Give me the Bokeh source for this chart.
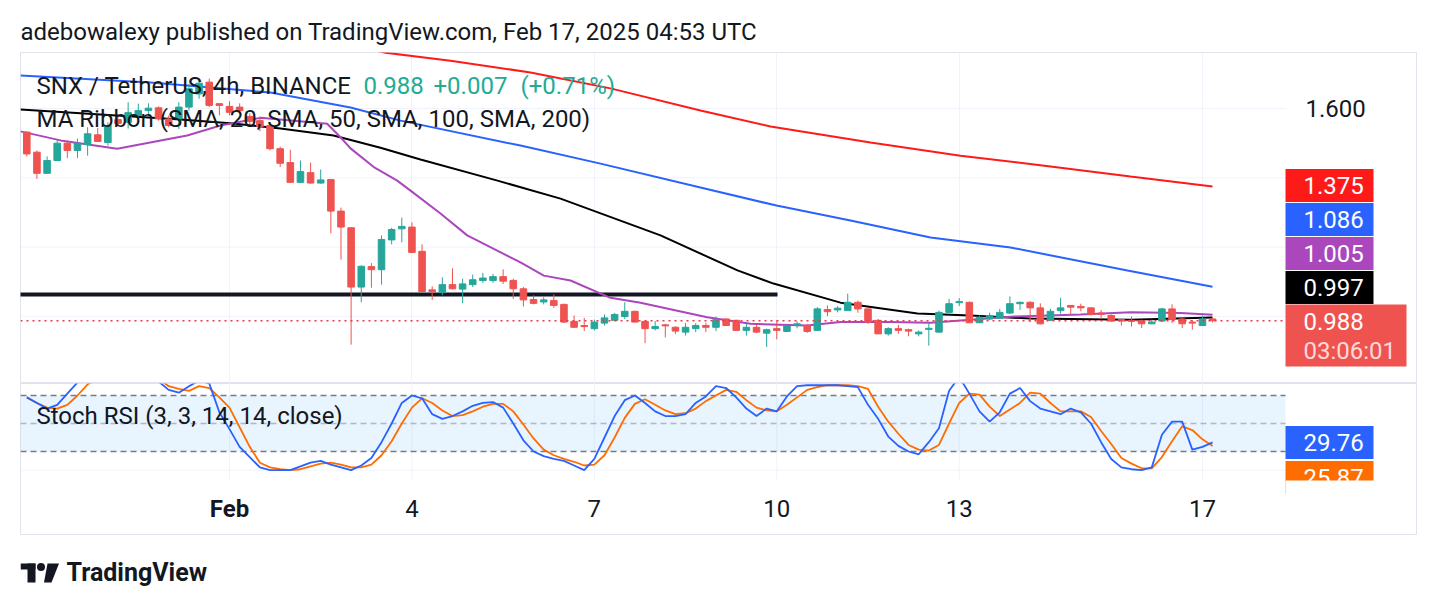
import pandas as pd
from bokeh.plotting import figure
from bokeh.models import Range1d, Label, ColumnDataSource, Grid, FixedTicker
from bokeh.layouts import column
from bokeh.embed import file_html
from bokeh.resources import INLINE
from bokeh.core.properties import value

# ---------------- data ----------------
candle_start = "2025-01-28 16:00"   # 4h candles
candle_open = [1.532, 1.474, 1.413, 1.450, 1.500, 1.479, 1.496, 1.524, 1.502, 1.568,
               1.560, 1.580, 1.594, 1.602, 1.570, 1.570, 1.604, 1.642, 1.676, 1.614,
               1.606, 1.604, 1.577, 1.565, 1.551, 1.484, 1.444, 1.387, 1.415, 1.385,
               1.395, 1.304, 1.256, 1.085, 1.144, 1.135, 1.221, 1.253, 1.258, 1.188,
               1.077, 1.069, 1.092, 1.079, 1.092, 1.104, 1.104, 1.115, 1.104, 1.080,
               1.049, 1.042, 1.046, 1.035, 0.986, 0.974, 0.965, 0.981, 0.989, 1.000,
               1.015, 0.986, 0.965, 0.976, 0.969, 0.955, 0.965, 0.974, 0.969, 0.993,
               0.989, 0.960, 0.969, 0.952, 0.965, 0.957, 0.974, 0.974, 0.960, 1.020,
               1.019, 1.017, 1.041, 1.022, 0.989, 0.950, 0.965, 0.962, 0.950, 0.963,
               0.955, 1.012, 1.040, 1.041, 0.982, 0.993, 0.995, 1.010, 1.037, 1.041,
               1.025, 0.989, 1.017, 1.032, 1.029, 1.025, 1.010, 1.003, 0.991, 0.989,
               0.987, 0.979, 0.987, 1.022, 0.993, 0.984, 0.974, 0.993]
candle_high = [1.534, 1.479, 1.462, 1.510, 1.508, 1.513, 1.546, 1.544, 1.560, 1.574,
               1.618, 1.614, 1.615, 1.606, 1.580, 1.618, 1.671, 1.686, 1.686, 1.614,
               1.621, 1.615, 1.586, 1.577, 1.557, 1.490, 1.481, 1.450, 1.444, 1.424,
               1.397, 1.314, 1.257, 1.147, 1.154, 1.234, 1.256, 1.285, 1.272, 1.208,
               1.087, 1.113, 1.139, 1.109, 1.121, 1.126, 1.123, 1.136, 1.109, 1.085,
               1.061, 1.056, 1.064, 1.037, 1.003, 0.996, 0.991, 1.006, 1.010, 1.041,
               1.017, 0.986, 0.987, 0.979, 0.972, 0.981, 0.981, 0.982, 1.000, 0.994,
               0.991, 0.979, 0.977, 0.965, 0.989, 0.976, 0.986, 0.979, 1.027, 1.032,
               1.030, 1.066, 1.046, 1.023, 0.993, 0.969, 0.976, 0.965, 0.960, 0.982,
               1.017, 1.051, 1.053, 1.043, 1.003, 1.011, 1.022, 1.058, 1.043, 1.044,
               1.038, 1.022, 1.054, 1.032, 1.037, 1.027, 1.019, 1.006, 0.993, 1.000,
               0.991, 0.991, 1.025, 1.035, 0.998, 0.989, 1.003, 0.995]
candle_low = [1.462, 1.397, 1.412, 1.448, 1.457, 1.457, 1.464, 1.503, 1.493, 1.551,
              1.542, 1.575, 1.580, 1.565, 1.546, 1.541, 1.594, 1.628, 1.604, 1.580,
              1.580, 1.585, 1.554, 1.534, 1.479, 1.431, 1.386, 1.386, 1.383, 1.383,
              1.240, 1.164, 0.919, 1.041, 1.083, 1.092, 1.208, 1.214, 1.183, 1.070,
              1.048, 1.061, 1.078, 1.038, 1.085, 1.097, 1.097, 1.094, 1.051, 1.029,
              1.035, 1.035, 1.025, 0.981, 0.968, 0.958, 0.960, 0.974, 0.987, 0.993,
              0.983, 0.923, 0.960, 0.940, 0.950, 0.945, 0.955, 0.955, 0.958, 0.973,
              0.958, 0.945, 0.952, 0.912, 0.934, 0.955, 0.966, 0.953, 0.959, 1.001,
              1.012, 1.016, 1.011, 0.979, 0.950, 0.945, 0.950, 0.943, 0.943, 0.916,
              0.953, 1.011, 1.030, 0.981, 0.981, 0.989, 0.993, 1.007, 1.019, 0.984,
              0.977, 0.987, 1.008, 1.006, 1.015, 1.003, 0.993, 0.984, 0.974, 0.971,
              0.967, 0.978, 0.984, 0.981, 0.967, 0.962, 0.973, 0.983]
candle_close = [1.469, 1.413, 1.450, 1.500, 1.479, 1.500, 1.527, 1.505, 1.551, 1.557,
                1.588, 1.594, 1.601, 1.570, 1.551, 1.604, 1.657, 1.673, 1.609, 1.609,
                1.589, 1.594, 1.563, 1.548, 1.484, 1.442, 1.387, 1.418, 1.385, 1.394,
                1.304, 1.258, 1.085, 1.145, 1.135, 1.222, 1.251, 1.260, 1.185, 1.072,
                1.072, 1.092, 1.080, 1.094, 1.106, 1.111, 1.115, 1.102, 1.080, 1.048,
                1.038, 1.048, 1.032, 0.984, 0.969, 0.971, 0.984, 0.996, 1.006, 1.015,
                0.984, 0.965, 0.971, 0.973, 0.958, 0.969, 0.974, 0.969, 0.991, 0.974,
                0.960, 0.969, 0.955, 0.962, 0.960, 0.974, 0.979, 0.957, 1.022, 1.014,
                1.024, 1.041, 1.022, 0.984, 0.950, 0.965, 0.960, 0.958, 0.955, 0.966,
                1.012, 1.037, 1.043, 0.982, 0.998, 1.003, 1.012, 1.037, 1.041, 1.025,
                0.979, 1.015, 1.025, 1.027, 1.025, 1.006, 1.006, 0.987, 0.987, 0.986,
                0.979, 0.984, 1.022, 0.991, 0.979, 0.981, 0.993, 0.988]

price_change = "+0.007"
price_change_pct = "(+0.71%)"
countdown = "03:06:01"

# moving averages, read at points along each line (x = days after Feb 1, 00:00)
sma20_day = [-3.437, -2.779, -1.847, -0.696, -0.148, 0.510, 1.332, 1.607, 1.825, 1.990,
             2.373, 2.758, 2.977, 3.470, 3.909, 4.346, 4.785, 5.169, 5.608, 6.265,
             6.759, 7.856, 8.568, 9.500, 10.048, 10.870, 11.528, 12.186, 12.898, 13.995,
             14.817, 15.639, 16.165]
sma20_val = [1.534, 1.508, 1.484, 1.522, 1.551, 1.573, 1.560, 1.556, 1.517, 1.485,
             1.431, 1.392, 1.363, 1.297, 1.234, 1.195, 1.156, 1.118, 1.104, 1.054,
             1.040, 0.998, 0.979, 0.974, 0.984, 0.984, 0.982, 0.991, 1.000, 1.006,
             1.012, 1.010, 1.005]
sma50_day = [-3.437, -2.121, -0.806, 0.066, 0.839, 1.710, 2.483, 3.141, 4.407, 5.443,
             7.088, 8.354, 8.946, 10.048, 11.314, 12.186, 13.172, 14.817, 16.165]
sma50_val = [1.597, 1.583, 1.568, 1.557, 1.542, 1.522, 1.487, 1.453, 1.392, 1.340,
             1.234, 1.133, 1.095, 1.040, 1.009, 1.003, 0.994, 0.991, 0.997]
sma100_day = [-3.437, -1.299, 0.674, 1.990, 2.812, 4.785, 6.101, 7.745, 8.995, 10.212,
              11.528, 12.843, 14.767, 16.165]
sma100_val = [1.695, 1.675, 1.646, 1.603, 1.565, 1.493, 1.441, 1.372, 1.320, 1.277,
              1.228, 1.199, 1.133, 1.086]
sma200_day = [1.661, 2.565, 3.634, 4.950, 6.265, 7.745, 8.897, 10.541, 12.021, 13.501,
              14.817, 16.165]
sma200_val = [1.796, 1.761, 1.738, 1.704, 1.658, 1.594, 1.548, 1.502, 1.464, 1.433,
              1.404, 1.375]

hline_level = 1.0635      # drawn horizontal line
hline_end_day = 9.012

stoch_k = [78, 72, 66, 70, 82, 94, 100, 100, 100, 100, 100, 100, 100, 95, 86, 83, 90, 96, 93, 62,
           44, 25, 14, 3, 0, 0, 0, 4, 8, 10, 6, 3, 0, 5, 13, 30, 50, 72, 80, 77,
           60, 55, 58, 63, 69, 72, 73, 67, 50, 32, 20, 15, 12, 10, 5, 0, 12, 35, 58, 75,
           80, 72, 63, 58, 58, 60, 72, 79, 90, 88, 78, 66, 58, 66, 63, 79, 90, 91, 91, 91,
           91, 90, 89, 70, 55, 36, 26, 20, 17, 30, 45, 85, 100, 82, 63, 52, 62, 82, 88, 74,
           66, 63, 60, 66, 62, 50, 30, 12, 3, 1, 0, 3, 38, 52, 52, 22, 25, 29.76]
stoch_d = [78, 72, 67, 66, 70, 80, 92, 98, 100, 100, 100, 100, 100, 98, 90, 87, 85, 90, 88, 78,
           67, 46, 25, 8, 3, 1, 0, 1, 4, 7, 8, 6, 3, 3, 6, 16, 31, 50, 67, 77,
           72, 64, 58, 59, 63, 68, 71, 71, 63, 49, 34, 22, 16, 12, 9, 5, 6, 16, 35, 56,
           71, 76, 70, 64, 60, 61, 66, 74, 80, 86, 84, 75, 67, 64, 63, 70, 78, 86, 89, 91,
           91, 91, 90, 87, 68, 52, 39, 27, 22, 21, 27, 50, 72, 82, 81, 68, 58, 65, 72, 83,
           82, 72, 63, 63, 63, 57, 42, 28, 13, 7, 2, 2, 14, 31, 47, 43, 33, 25.87]
stoch_levels = [80, 50, 20]

time_ticks = [0, 3, 6, 9, 12, 16]
time_labels = ["Feb", "4", "7", "10", "13", "17"]
time_styles = ["bold", "normal", "normal", "normal", "normal", "normal"]
price_ticks = [1.0, 1.2, 1.4, 1.6]

# ---------------- picture calibration (page pixels) ----------------
W = 1428
BOX_L, BOX_R, SCALE_L = 20, 1416, 1285
MAIN_T, MAIN_B, PANE_B, BOX_B, PAGE_B = 52, 383, 480, 535, 598
DAY0_PX, PX_DAY = 229.0, 60.81
PRICE_REF, PRICE_REF_PX, PX_PRICE = 1.6, 108.0, 346.7
ST_REF, ST_REF_PX, PX_ST = 80.0, 395.0, 0.9333


def dx(px):
    return (px - DAY0_PX) / PX_DAY


def py(px):
    return PRICE_REF - (px - PRICE_REF_PX) / PX_PRICE


def sy(px):
    return ST_REF - (px - ST_REF_PX) / PX_ST


FONT = "Roboto"
FS = "24px"
TXT = "#131722"
UP, DN = "#26a69a", "#ef5350"
GRID = "#f0f3fa"
BORDER = "#e0e3eb"
C20, C50, C100, C200 = "#ab47bc", "#000000", "#2962ff", "#ff1a1a"
K_COL, D_COL = "#2962ff", "#ff6d00"

XL, XR, XS = dx(BOX_L), dx(BOX_R), dx(SCALE_L)

t = pd.date_range(candle_start, periods=len(candle_open), freq="4h")
days = list((t - pd.Timestamp("2025-02-01")) / pd.Timedelta(days=1))


def base(h, xr, yr, outline):
    f = figure(width=W, height=h, x_range=xr, y_range=yr,
               output_backend="svg", toolbar_location=None,
               x_axis_location=None, y_axis_location=None,
               min_border_left=BOX_L, min_border_right=W - BOX_R,
               min_border_top=0, min_border_bottom=0,
               outline_line_color=outline, background_fill_color="white",
               border_fill_color="white")
    f.center = [r for r in f.center if not isinstance(r, Grid)]
    return f


# ---------------- header ----------------
head = base(MAIN_T, Range1d(BOX_L, BOX_R), Range1d(MAIN_T, 0), None)
head.text(x=[20], y=[31], text=["adebowalexy published on TradingView.com, Feb 17, 2025 04:53 UTC"],
          text_font=value(FONT), text_font_size=FS, text_color=TXT,
          text_baseline="middle", text_align="left")

# ---------------- main pane ----------------
main = base(MAIN_B - MAIN_T, Range1d(XL, XR), Range1d(py(MAIN_B), py(MAIN_T)), BORDER)
main.add_layout(Grid(dimension=0, ticker=FixedTicker(ticks=time_ticks),
                     grid_line_color=GRID, grid_line_width=1))
main.segment(x0=[XL] * len(price_ticks), y0=price_ticks, x1=[XS] * len(price_ticks),
             y1=price_ticks, line_color=GRID, line_width=1)

colors = [UP if c >= o else DN for o, c in zip(candle_open, candle_close)]
src = ColumnDataSource(dict(
    x=days, o=candle_open, h=candle_high, l=candle_low, c=candle_close,
    top=[max(o, c) for o, c in zip(candle_open, candle_close)],
    bot=[min(o, c) for o, c in zip(candle_open, candle_close)],
    col=colors))

main.segment(x0=XL - 1, y0=hline_level, x1=hline_end_day, y1=hline_level,
             line_color="#131722", line_width=4)
main.line(sma200_day, sma200_val, line_color=C200, line_width=2)
main.line(sma100_day, sma100_val, line_color=C100, line_width=2)
main.line(sma50_day, sma50_val, line_color=C50, line_width=2)
main.line(sma20_day, sma20_val, line_color=C20, line_width=2)
main.segment(x0="x", y0="l", x1="x", y1="h", line_color="col", line_width=1, source=src)
main.vbar(x="x", width=0.108, top="top", bottom="bot", fill_color="col",
          line_color="col", line_width=1, source=src)

last = candle_close[-1]
main.segment(x0=XL, y0=last, x1=XS, y1=last, line_color="#f23645",
             line_width=1.5, line_dash="2 4")

# price scale label / badges
main.text(x=[dx(1305)], y=[price_ticks[-1]], text=[f"{price_ticks[-1]:.3f}"],
          text_font=value(FONT), text_font_size=FS, text_color=TXT,
          text_baseline="middle", text_align="left")

ma_last = [sma200_val[-1], sma100_val[-1], sma20_val[-1], sma50_val[-1]]
ma_cols = [C200, C100, C20, C50]
badge_c = [185, 219, 253, 287]
main.quad(left=XS, right=dx(1373), top=[py(c - 16.5) for c in badge_c],
          bottom=[py(c + 16.5) for c in badge_c], fill_color=ma_cols, line_color=None)
main.text(x=[dx(1303)] * 4, y=[py(c) for c in badge_c], text=[f"{v:.3f}" for v in ma_last],
          text_font=value(FONT), text_font_size=FS, text_color="white",
          text_baseline="middle", text_align="left")
main.quad(left=XS, right=dx(1406), top=py(304), bottom=py(366), fill_color=DN, line_color=None)
main.text(x=[dx(1303)], y=[py(321)], text=[f"{last:.3f}"], text_font=value(FONT),
          text_font_size=FS, text_color="white", text_baseline="middle", text_align="left")
main.text(x=[dx(1303)], y=[py(350)], text=[countdown], text_font=value(FONT),
          text_font_size=FS, text_color="white", text_alpha=0.8,
          text_baseline="middle", text_align="left")

# legend texts
main.add_layout(Label(x=dx(36), y=py(85), text="SNX / TetherUS, 4h, BINANCE",
                      text_font=FONT, text_font_size=FS, text_color=TXT,
                      text_baseline="middle", text_align="left"))
main.add_layout(Label(x=dx(363), y=py(85), text=f"{last:.3f}",
                      text_font=FONT, text_font_size=FS, text_color="#22ab94",
                      text_baseline="middle", text_align="left"))
main.add_layout(Label(x=dx(433), y=py(85), text=price_change,
                      text_font=FONT, text_font_size=FS, text_color="#22ab94",
                      text_baseline="middle", text_align="left"))
main.add_layout(Label(x=dx(520), y=py(85), text=price_change_pct,
                      text_font=FONT, text_font_size=FS, text_color="#22ab94",
                      text_baseline="middle", text_align="left"))
main.add_layout(Label(x=dx(36), y=py(118), text="MA Ribbon (SMA, 20, SMA, 50, SMA, 100, SMA, 200)",
                      text_font=FONT, text_font_size=FS, text_color=TXT,
                      text_baseline="middle", text_align="left"))

# ---------------- stoch RSI pane (+ time scale) ----------------
st = base(BOX_B - MAIN_B, main.x_range, Range1d(sy(BOX_B), sy(MAIN_B)), BORDER)

st.segment(x0=time_ticks, y0=sy(PANE_B), y1=sy(MAIN_B) + 5, x1=time_ticks,
           line_color=GRID, line_width=1)
st.segment(x0=XL, y0=0, x1=XS, y1=0, line_color=GRID, line_width=1)
st.quad(left=XL, right=XS, bottom=stoch_levels[2], top=stoch_levels[0],
        fill_color="#2196f3", fill_alpha=0.1, line_color=None)
st.segment(x0=[XL, XL], y0=[stoch_levels[0], stoch_levels[2]], x1=[XS, XS],
           y1=[stoch_levels[0], stoch_levels[2]], line_color="#787b86",
           line_width=1.5, line_dash="6 4")
st.segment(x0=XL, y0=stoch_levels[1], x1=XS, y1=stoch_levels[1],
           line_color="#787b86", line_alpha=0.5, line_width=1.5, line_dash="6 4")
st.line(days, stoch_d, line_color=D_COL, line_width=1.8)
st.line(days, stoch_k, line_color=K_COL, line_width=1.8)

st.quad(left=XS, right=dx(1373), top=sy(425.5), bottom=sy(458.5), fill_color=K_COL, line_color=None)
st.quad(left=XS, right=dx(1373), top=sy(460.5), bottom=sy(493.5), fill_color=D_COL, line_color=None)
st.text(x=[dx(1303), dx(1303)], y=[sy(442), sy(477)],
        text=[f"{stoch_k[-1]:.2f}", f"{stoch_d[-1]:.2f}"], text_font=value(FONT),
        text_font_size=FS, text_color="white", text_baseline="middle", text_align="left")
st.quad(left=XS, right=dx(1414), top=sy(PANE_B), bottom=sy(PANE_B + 22),
        fill_color="white", line_color=None)

tsrc = ColumnDataSource(dict(x=time_ticks, y=[sy(508)] * len(time_ticks),
                             t=time_labels, s=time_styles))
st.text(x="x", y="y", text="t", text_font_style="s", source=tsrc,
        text_font=value(FONT), text_font_size=FS, text_color=TXT,
        text_baseline="middle", text_align="center")

st.add_layout(Label(x=dx(36), y=sy(415), text="Stoch RSI (3, 3, 14, 14, close)",
                    text_font=FONT, text_font_size=FS, text_color=TXT,
                    text_baseline="middle", text_align="left"))

# ---------------- footer (TradingView logo) ----------------
foot = base(PAGE_B - BOX_B, Range1d(BOX_L, BOX_R), Range1d(PAGE_B, BOX_B), None)
foot.quad(left=[20, 27], right=[35, 35], top=[563, 563], bottom=[569, 582],
          fill_color=TXT, line_color=None)
foot.scatter(x=[40.5], y=[566.5], size=8, marker="circle", fill_color=TXT, line_color=None)
foot.patch(x=[47, 58.5, 51, 43.5], y=[563, 563, 582, 582], fill_color=TXT, line_color=None)
foot.text(x=[66], y=[572], text=["TradingView"], text_font=value(FONT),
          text_font_size="25px", text_font_style="bold", text_color=TXT,
          text_baseline="middle", text_align="left")

p = column(head, main, st, foot)
open("out.html", "w").write(file_html(p, INLINE))
